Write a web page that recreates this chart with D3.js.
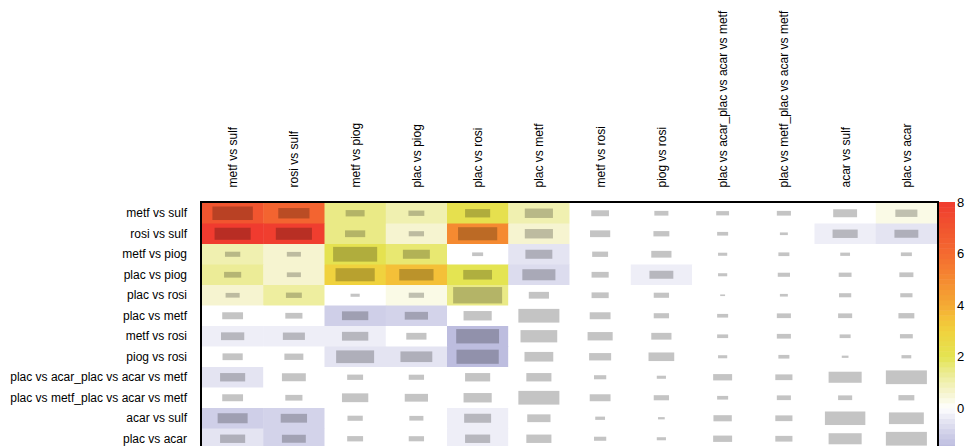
<!DOCTYPE html>
<html>
<head>
<meta charset="utf-8">
<script src="https://cdn.jsdelivr.net/npm/d3@7"></script>
<style>
  html, body { margin: 0; padding: 0; background: #fff; overflow: hidden; }
  svg { display: block; }
  text { font-family: "Liberation Sans", Arial, Helvetica, sans-serif; font-size: 12px; fill: #000; }
</style>
</head>
<body>
<svg id="chart" width="965" height="446"></svg>
<script>
// Contrast names (shared by rows and columns)
const labels = [
  "metf vs sulf", "rosi vs sulf", "metf vs piog", "plac vs piog", "plac vs rosi",
  "plac vs metf", "metf vs rosi", "piog vs rosi",
  "plac vs acar_plac vs acar vs metf", "plac vs metf_plac vs acar vs metf",
  "acar vs sulf", "plac vs acar"
];

// Cell score (fill colour), one array per row
const score = [
  [ 7.0,  6.3,  1.5,  1.0,  2.2,  1.0, 0, 0,    0, 0,  0.0,  0.3],
  [ 8.0,  7.9,  1.5,  0.6,  5.0,  0.6, 0, 0,    0, 0, -0.3, -0.5],
  [ 1.0,  0.6,  2.1,  1.7,  0.0, -0.5, 0, 0,    0, 0,  0,    0],
  [ 1.3,  0.6,  3.0,  3.5,  2.0, -0.7, 0, -0.3, 0, 0,  0,    0],
  [ 0.6,  1.2,  0.0,  0.3,  1.5,  0.0, 0, 0,    0, 0,  0,    0],
  [ 0.0,  0.0, -1.0, -0.9,  0.0,  0.0, 0, 0,    0, 0,  0,    0],
  [-0.3, -0.3, -0.3,  0.0, -1.5,  0.0, 0, 0,    0, 0,  0,    0],
  [ 0.0,  0.0, -0.5, -0.5, -1.5,  0.0, 0, 0,    0, 0,  0,    0],
  [-0.5,  0.0,  0.0,  0.0,  0.0,  0.0, 0, 0,    0, 0,  0,    0],
  [ 0.0,  0.0,  0.0,  0.0,  0.0,  0.0, 0, 0,    0, 0,  0,    0],
  [-1.0, -0.9,  0.0,  0.0, -0.3,  0.0, 0, 0,    0, 0,  0,    0],
  [-0.5, -0.9,  0.0,  0.0, -0.3,  0.0, 0, 0,    0, 0,  0,    0]
];

// Relative size of the inner box (fraction of the cell), one array per row
const spread = [
  [0.66, 0.51, 0.31, 0.26, 0.41, 0.46, 0.29, 0.23, 0.21, 0.23, 0.39, 0.36],
  [0.59, 0.59, 0.33, 0.25, 0.64, 0.46, 0.33, 0.26, 0.18, 0.13, 0.41, 0.39],
  [0.25, 0.23, 0.72, 0.44, 0.18, 0.44, 0.26, 0.33, 0.15, 0.18, 0.16, 0.18],
  [0.28, 0.23, 0.64, 0.56, 0.47, 0.54, 0.28, 0.39, 0.15, 0.20, 0.21, 0.23],
  [0.23, 0.26, 0.15, 0.25, 0.80, 0.33, 0.28, 0.25, 0.08, 0.13, 0.20, 0.20],
  [0.34, 0.28, 0.43, 0.38, 0.46, 0.67, 0.34, 0.25, 0.18, 0.23, 0.23, 0.26],
  [0.38, 0.36, 0.43, 0.33, 0.70, 0.60, 0.41, 0.33, 0.18, 0.23, 0.18, 0.21],
  [0.33, 0.31, 0.62, 0.52, 0.69, 0.47, 0.36, 0.42, 0.15, 0.18, 0.11, 0.16],
  [0.41, 0.39, 0.26, 0.25, 0.41, 0.41, 0.20, 0.15, 0.31, 0.28, 0.54, 0.67],
  [0.34, 0.28, 0.43, 0.38, 0.46, 0.67, 0.34, 0.25, 0.18, 0.23, 0.23, 0.26],
  [0.49, 0.43, 0.25, 0.23, 0.44, 0.38, 0.16, 0.11, 0.30, 0.28, 0.66, 0.57],
  [0.41, 0.39, 0.26, 0.25, 0.41, 0.41, 0.20, 0.15, 0.31, 0.28, 0.54, 0.67]
];

// Colour ramp: lavender below zero, white at zero, yellow → orange → red above
const rampValues = [-1.7, -1.0, -0.5, -0.25, 0, 0.3, 0.6, 1.0, 1.5, 2.0, 3.0, 3.5, 4.0, 5.0, 6.0, 7.0, 8.0];
const rampColors = ["#b6b6dc", "#cfcfe8", "#e4e4f2", "#f0f0f8", "#ffffff", "#fafae6", "#f6f4d0",
                    "#f0f0b0", "#eaea86", "#e4e452", "#f0d23e", "#f4c038", "#f4aa34",
                    "#f58a31", "#f46a30", "#f1552f", "#f03b2f"];
const legendTicks = [0, 2, 4, 6, 8];

const svg = d3.select("#chart");

const x = d3.scaleBand().domain(labels).range([202, 937]);
const y = d3.scaleBand().domain(labels).range([203, 449]);
const color = d3.scaleLinear().domain(rampValues).range(rampColors).interpolate(d3.interpolateRgb).clamp(true);

// Flatten to cells
const cells = [];
labels.forEach((r, i) => labels.forEach((c, j) => {
  cells.push({ row: r, col: c, v: score[i][j], s: spread[i][j] });
}));

const grid = svg.append("g");
grid.selectAll("rect.cell").data(cells).join("rect")
  .attr("class", "cell")
  .attr("x", d => x(d.col))
  .attr("y", d => y(d.row))
  .attr("width", x.bandwidth() + 0.5)
  .attr("height", y.bandwidth() + 0.5)
  .attr("fill", d => color(d.v));

grid.selectAll("rect.box").data(cells).join("rect")
  .attr("class", "box")
  .attr("x", d => x(d.col) + x.bandwidth() * (1 - d.s) / 2)
  .attr("y", d => y(d.row) + y.bandwidth() * (1 - d.s) / 2)
  .attr("width", d => x.bandwidth() * d.s)
  .attr("height", d => y.bandwidth() * d.s)
  .attr("fill", "#000")
  .attr("fill-opacity", 0.23);

// Frame around the grid
svg.append("rect")
  .attr("x", 201).attr("y", 202)
  .attr("width", 938 - 201).attr("height", 460)
  .attr("fill", "none").attr("stroke", "#000").attr("stroke-width", 2);

// Row labels
svg.append("g")
  .attr("transform", "translate(187,0)")
  .call(d3.axisLeft(y).tickSize(0).tickPadding(0))
  .call(g => g.select(".domain").remove())
  .selectAll("text")
  .style("font-size", "12px")
  .style("font-family", "'Liberation Sans', Arial, sans-serif");

// Column labels, rotated
svg.append("g").selectAll("text").data(labels).join("text")
  .attr("transform", d => `translate(${x(d) + x.bandwidth() / 2 + 4.5},187.5) rotate(-90)`)
  .attr("text-anchor", "start")
  .text(d => d);

// Colour key
const legendScale = d3.scaleLinear().domain([0, 8]).range([408, 202]);
const step = 0.2;
const bands = d3.range(-1.8, 8 - 1e-9, step);
svg.append("g").selectAll("rect").data(bands).join("rect")
  .attr("x", 939)
  .attr("y", d => legendScale(d + step))
  .attr("width", 16)
  .attr("height", d => legendScale(d) - legendScale(d + step) + 0.5)
  .attr("fill", d => color(d + step / 2));

svg.append("g")
  .attr("transform", "translate(955,0)")
  .call(d3.axisRight(legendScale).tickValues(legendTicks).tickSize(0).tickPadding(2).tickFormat(d3.format("d")))
  .call(g => g.select(".domain").remove())
  .selectAll("text")
  .style("font-size", "13px")
  .style("font-family", "'Liberation Sans', Arial, sans-serif");
</script>
</body>
</html>
